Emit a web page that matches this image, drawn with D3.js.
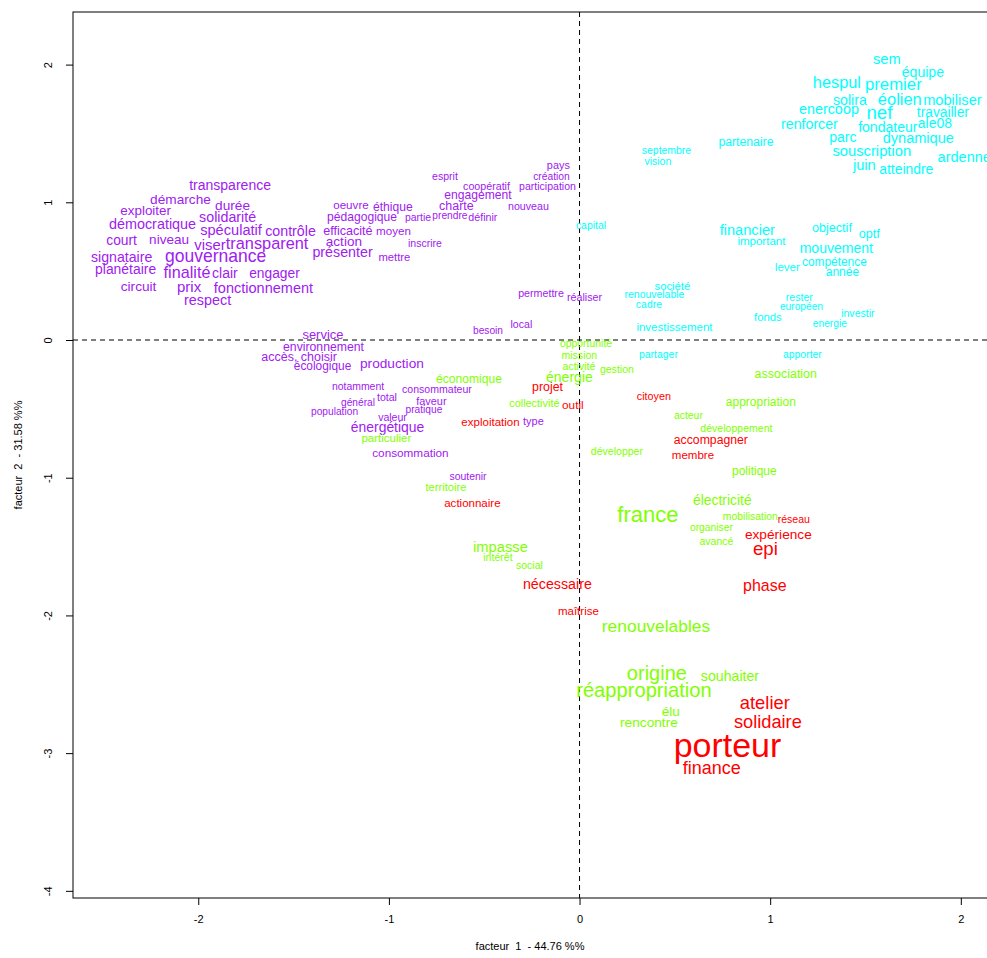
<!DOCTYPE html>
<html>
<head>
<meta charset="utf-8">
<script src="https://cdn.jsdelivr.net/npm/d3@7"></script>
<style>
  html, body { margin: 0; padding: 0; background: #fff; }
  svg { display: block; font-family: "Liberation Sans", Arial, sans-serif; }
</style>
</head>
<body>
<svg id="chart" width="987" height="958"></svg>
<script>
// Coordonnées des formes sur les deux premiers facteurs (AFC), par classe.
// Chaque entrée : [forme, facteur 1, facteur 2, cex]
const classe1 = [ // gouvernance / démarche
  ["transparence", -1.833, 1.126, 1.17], ["démarche", -2.093, 1.024, 1.14],
  ["durée", -1.820, 0.980, 1.14], ["exploiter", -2.276, 0.937, 1.12],
  ["solidarité", -1.846, 0.893, 1.19], ["démocratique", -2.240, 0.842, 1.20],
  ["spéculatif", -1.828, 0.799, 1.22], ["contrôle", -1.516, 0.792, 1.19],
  ["court", -2.402, 0.726, 1.15], ["niveau", -2.153, 0.733, 1.13],
  ["viser", -1.938, 0.690, 1.24], ["transparent", -1.639, 0.697, 1.36],
  ["gouvernance", -1.909, 0.610, 1.46], ["signataire", -2.402, 0.603, 1.18],
  ["planétaire", -2.381, 0.516, 1.16], ["finalité", -2.059, 0.487, 1.35],
  ["clair", -1.860, 0.487, 1.17], ["engager", -1.600, 0.487, 1.15],
  ["circuit", -2.313, 0.392, 1.14], ["prix", -2.048, 0.385, 1.25],
  ["fonctionnement", -1.658, 0.378, 1.21], ["respect", -1.951, 0.290, 1.20],
  ["pays", -0.111, 1.271, 0.91], ["esprit", -0.706, 1.184, 0.88],
  ["création", -0.147, 1.184, 0.86], ["coopératif", -0.488, 1.118, 0.89],
  ["participation", -0.168, 1.118, 0.88], ["engagement", -0.533, 1.053, 1.01],
  ["oeuvre", -1.199, 0.980, 0.97], ["éthique", -0.979, 0.966, 1.01],
  ["charte", -0.646, 0.973, 1.04], ["nouveau", -0.268, 0.973, 0.89],
  ["pédagogique", -1.141, 0.893, 1.01], ["partie", -0.847, 0.886, 0.87],
  ["prendre", -0.680, 0.900, 0.85], ["définir", -0.507, 0.893, 0.89],
  ["efficacité", -1.215, 0.792, 1.05], ["moyen", -0.976, 0.792, 0.97],
  ["action", -1.236, 0.712, 1.13], ["inscrire", -0.811, 0.704, 0.88],
  ["présenter", -1.243, 0.639, 1.19], ["mettre", -0.971, 0.603, 0.94],
  ["permettre", -0.202, 0.341, 0.89], ["réaliser", 0.026, 0.312, 0.89],
  ["local", -0.305, 0.116, 0.88], ["besoin", -0.480, 0.065, 0.85],
  ["service", -1.346, 0.036, 1.08], ["environnement", -1.343, -0.051, 1.02],
  ["accès, choisir", -1.471, -0.123, 1.04], ["écologique", -1.348, -0.189, 0.99],
  ["production", -0.984, -0.167, 1.14], ["notamment", -1.162, -0.341, 0.87],
  ["consommateur", -0.748, -0.356, 0.88], ["total", -1.010, -0.414, 0.88],
  ["général", -1.162, -0.458, 0.85], ["faveur", -0.777, -0.443, 0.91],
  ["population", -1.285, -0.523, 0.85], ["pratique", -0.816, -0.508, 0.85],
  ["valeur", -0.981, -0.566, 0.88], ["énergétique", -1.007, -0.632, 1.16],
  ["consommation", -0.887, -0.821, 0.98], ["type", -0.242, -0.588, 0.91],
  ["soutenir", -0.585, -0.995, 0.87]
];

const classe2 = [ // acteurs et financement
  ["capital", 0.060, 0.828, 0.87], ["sem", 1.612, 2.041, 1.23],
  ["équipe", 1.801, 1.946, 1.17], ["hespul", 1.350, 1.866, 1.36],
  ["premier", 1.646, 1.859, 1.40], ["solira", 1.418, 1.743, 1.18],
  ["éolien", 1.680, 1.743, 1.37], ["mobiliser", 1.956, 1.743, 1.22],
  ["enercoop", 1.308, 1.678, 1.20], ["nef", 1.573, 1.648, 1.56],
  ["travailler", 1.906, 1.656, 1.15], ["renforcer", 1.206, 1.569, 1.18],
  ["fondateur", 1.617, 1.547, 1.17], ["ale08", 1.864, 1.576, 1.16],
  ["parc", 1.381, 1.474, 1.17], ["dynamique", 1.777, 1.467, 1.21],
  ["partenaire", 0.873, 1.438, 1.02], ["septembre", 0.456, 1.373, 0.87],
  ["vision", 0.411, 1.293, 0.87], ["souscription", 1.533, 1.373, 1.23],
  ["ardenne", 2.018, 1.329, 1.21], ["juin", 1.494, 1.271, 1.22],
  ["atteindre", 1.714, 1.242, 1.16], ["financier", 0.880, 0.799, 1.22],
  ["important", 0.954, 0.719, 0.96], ["objectif", 1.324, 0.813, 1.05],
  ["optf", 1.520, 0.770, 1.05], ["mouvement", 1.347, 0.668, 1.17],
  ["compétence", 1.337, 0.566, 0.99], ["lever", 1.090, 0.530, 0.96],
  ["année", 1.379, 0.494, 1.00], ["société", 0.487, 0.392, 0.94],
  ["renouvelable", 0.393, 0.327, 0.87], ["cadre", 0.364, 0.254, 0.87],
  ["rester", 1.153, 0.312, 0.88], ["européen", 1.164, 0.240, 0.85],
  ["fonds", 0.988, 0.167, 0.94], ["investir", 1.460, 0.189, 0.88],
  ["energie", 1.313, 0.116, 0.85], ["investissement", 0.498, 0.094, 0.96],
  ["partager", 0.414, -0.109, 0.87], ["apporter", 1.169, -0.109, 0.87]
];

const classe3 = [ // territoire et réappropriation
  ["opportunité", 0.034, -0.029, 0.87], ["mission", -0.001, -0.109, 0.88],
  ["activité", -0.003, -0.189, 0.88], ["énergie", -0.053, -0.269, 1.17],
  ["gestion", 0.196, -0.211, 0.88], ["économique", -0.580, -0.283, 1.01],
  ["collectivité", -0.237, -0.458, 0.91], ["particulier", -1.013, -0.712, 0.96],
  ["association", 1.082, -0.247, 1.04], ["appropriation", 0.951, -0.450, 1.00],
  ["acteur", 0.571, -0.552, 0.87], ["développement", 0.823, -0.646, 0.88],
  ["développer", 0.196, -0.813, 0.88], ["politique", 0.917, -0.951, 1.00],
  ["territoire", -0.701, -1.068, 0.93], ["france", 0.359, -1.271, 1.84],
  ["électricité", 0.749, -1.162, 1.16], ["mobilisation", 0.896, -1.285, 0.87],
  ["organiser", 0.692, -1.365, 0.86], ["avancé", 0.718, -1.460, 0.88],
  ["impasse", -0.415, -1.503, 1.23], ["intérêt", -0.428, -1.583, 0.88],
  ["social", -0.263, -1.641, 0.88], ["renouvelables", 0.401, -2.077, 1.45],
  ["origine", 0.406, -2.418, 1.67], ["souhaiter", 0.789, -2.440, 1.18],
  ["réappropriation", 0.338, -2.542, 1.68], ["élu", 0.479, -2.694, 1.14],
  ["rencontre", 0.364, -2.774, 1.14]
];

const classe4 = [ // porteurs de projet
  ["projet", -0.168, -0.341, 1.03], ["outil", -0.035, -0.472, 0.98],
  ["exploitation", -0.467, -0.595, 0.96], ["citoyen", 0.390, -0.407, 0.90],
  ["accompagner", 0.689, -0.726, 1.02], ["membre", 0.595, -0.835, 0.96],
  ["actionnaire", -0.562, -1.184, 0.96], ["réseau", 1.124, -1.307, 0.88],
  ["expérience", 1.043, -1.409, 1.14], ["epi", 0.975, -1.518, 1.56],
  ["nécessaire", -0.116, -1.772, 1.19], ["phase", 0.972, -1.786, 1.33],
  ["maîtrise", -0.006, -1.968, 0.96], ["atelier", 0.972, -2.636, 1.53],
  ["solidaire", 0.988, -2.774, 1.52], ["porteur", 0.776, -2.948, 2.83],
  ["finance", 0.694, -3.108, 1.50]
];

const classes = [classe1, classe2, classe3, classe4];
const couleurs = ["#A020F0", "#00FFFF", "#7FFF00", "#FF0000"];

const ticksX = [-2, -1, 0, 1, 2];
const ticksY = [-4, -3, -2, -1, 0, 1, 2];
const titreX = "facteur  1  - 44.76 %%";
const titreY = "facteur  2  - 31.58 %%";

const svg = d3.select("#chart");
const plot = { left: 73, top: 12, right: 1010, bottom: 898 };

const x = d3.scaleLinear().domain([-2.657, 2.258]).range([plot.left, plot.right]);
const y = d3.scaleLinear().domain([-4.052, 2.382]).range([plot.bottom, plot.top]);
const taille = d3.scaleLinear().domain([0, 1]).range([0, 12]);

// étiquettes des graduations avec un trait d'union simple
const etiquette = d => String(d);

svg.append("defs").append("clipPath").attr("id", "zone")
  .append("rect")
  .attr("x", plot.left).attr("y", plot.top)
  .attr("width", plot.right - plot.left).attr("height", plot.bottom - plot.top);

// axes
const axeX = d3.axisBottom(x).tickValues(ticksX).tickSize(7).tickPadding(10)
  .tickFormat(etiquette);
const gx = svg.append("g").attr("transform", `translate(0,${plot.bottom})`).call(axeX);
gx.select(".domain").remove();
gx.selectAll("text").attr("font-size", 11).attr("fill", "#000")
  .attr("font-family", "Liberation Sans, Arial, sans-serif");

const axeY = d3.axisLeft(y).tickValues(ticksY).tickSize(7).tickFormat(etiquette);
const gy = svg.append("g").attr("transform", `translate(${plot.left},0)`).call(axeY);
gy.select(".domain").remove();
gy.selectAll("text")
  .attr("font-size", 11).attr("fill", "#000")
  .attr("font-family", "Liberation Sans, Arial, sans-serif")
  .attr("text-anchor", "middle")
  .attr("x", null)
  .attr("transform", "translate(-25,0) rotate(-90)")
  .attr("dy", "0.35em");

// cadre
svg.append("rect")
  .attr("x", plot.left).attr("y", plot.top)
  .attr("width", plot.right - plot.left).attr("height", plot.bottom - plot.top)
  .attr("fill", "none").attr("stroke", "#000").attr("stroke-width", 1);

const g = svg.append("g").attr("clip-path", "url(#zone)");

// axes des facteurs en pointillés
g.append("line")
  .attr("x1", x(0)).attr("x2", x(0)).attr("y1", plot.top).attr("y2", plot.bottom)
  .attr("stroke", "#000").attr("stroke-dasharray", "5,4");
g.append("line")
  .attr("x1", plot.left).attr("x2", plot.right).attr("y1", y(0)).attr("y2", y(0))
  .attr("stroke", "#000").attr("stroke-dasharray", "5,4");

// formes
classes.forEach((cl, i) => {
  g.append("g").selectAll("text").data(cl).join("text")
    .attr("x", d => x(d[1]))
    .attr("y", d => y(d[2]))
    .attr("dy", "0.33em")
    .attr("text-anchor", "middle")
    .attr("font-size", d => taille(d[3]))
    .attr("fill", couleurs[i])
    .text(d => d[0]);
});

// titres
svg.append("text")
  .attr("x", (plot.left + 987) / 2).attr("y", 950)
  .attr("text-anchor", "middle").attr("font-size", 11)
  .style("white-space", "pre")
  .text(titreX);
svg.append("text")
  .attr("transform", `translate(22,${(plot.top + plot.bottom) / 2}) rotate(-90)`)
  .attr("text-anchor", "middle").attr("font-size", 11)
  .style("white-space", "pre")
  .text(titreY);
</script>
</body>
</html>
